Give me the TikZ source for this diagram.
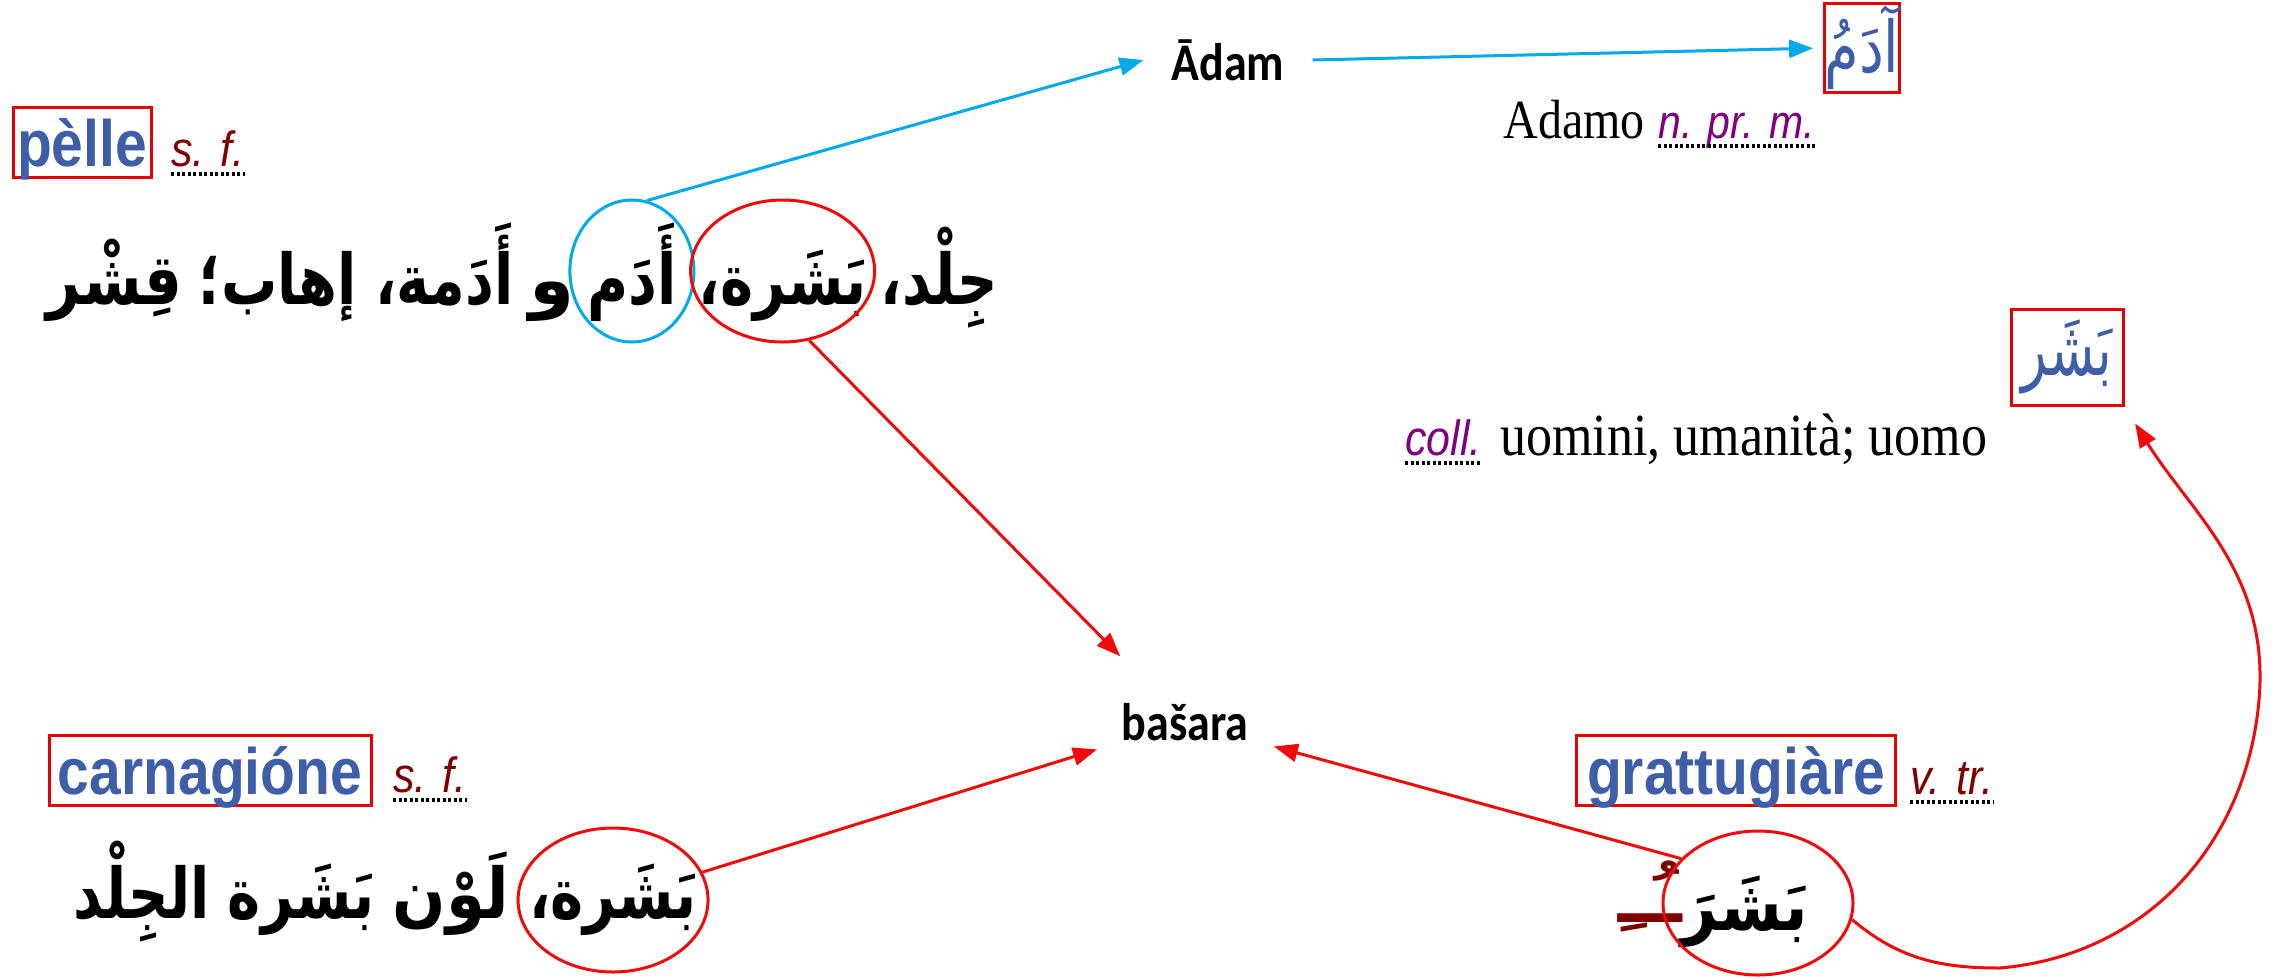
\documentclass[tikz,border=0pt]{standalone}
\usepackage{graphicx}
\usepackage{fontspec}
\usetikzlibrary{arrows.meta,shapes.geometric}
\setmainfont{Liberation Serif}
\newfontfamily\lsans{Liberation Sans}
\newfontfamily\carl{Carlito}
\newfontfamily\arabicfont[Script=Arabic]{DejaVu Sans}
\TeXXeTstate=1
\newcommand\fsz[1]{\fontsize{#1pt}{#1pt}\selectfont}
\newcommand\vs[1]{\scalebox{1}[1.15]{#1}}
\newcommand\arw[2][0.85]{\scalebox{#1}[1.06]{\beginR #2\endR}}
\definecolor{hwblue}{RGB}{62,94,168}
\definecolor{boxred}{RGB}{230,0,0}
\definecolor{arrred}{RGB}{240,10,10}
\definecolor{cyanline}{RGB}{0,170,235}
\definecolor{abbrred}{RGB}{128,0,0}
\definecolor{abbrpurple}{RGB}{128,0,128}
\tikzset{
 hw/.style={draw=boxred, line width=3pt, inner xsep=0pt, inner ysep=0pt, text height=59pt, text depth=11pt, text=hwblue, font=\lsans\bfseries\fsz{57}},
 abbr/.style={inner sep=0pt, anchor=base west, font=\lsans\itshape\fsz{43}},
 ar/.style={inner sep=0pt, anchor=base east, font=\arabicfont\bfseries\fsz{66}},
 arbox/.style={draw=boxred, line width=3pt, inner sep=0pt, text=hwblue, font=\arabicfont\fsz{62}},
 ring/.style={ellipse, draw, line width=3pt, inner sep=0pt},
 calib/.style={font=\carl\bfseries\fsz{46}},
 dots/.style={black, line width=3.2pt, dash pattern=on 3pt off 2.5pt},
 redarr/.style={draw=arrred, line width=3pt, -{Triangle[length=24pt,width=18pt]}},
 bluearr/.style={draw=cyanline, line width=3pt, -{Triangle[length=24pt,width=18pt]}},
}
\begin{document}
\begin{tikzpicture}[x=1pt,y=-1pt]
\useasboundingbox[fill=white] (0,0) rectangle (2275,978);

% ---- pelle entry
\node[hw, minimum width=138pt] (pelle) at (82,142) {\vs{pèlle}};
\node[abbr, text=abbrred] (sf1) at (171,166) {\vs{s. f.}};
\draw[dots] ([yshift=-8pt]sf1.base west) -- ([yshift=-8pt]sf1.base east);
\node[ar] (a1) at (998,304) {\arw{جِلْد،}};
\node[ar] (a2) at ([xshift=-14pt]a1.base west) {\arw{بَشَرة،}};
\node[ar] (a3) at ([xshift=-22pt]a2.base west) {\arw{أَدَم}};
\node[ar] (a4) at ([xshift=-12pt]a3.base west) {\arw[1.1]{و}};
\node[ar] (a5) at ([xshift=-16pt]a4.base west) {\arw{أَدَمة،}};
\node[ar] (a6) at ([xshift=-18pt]a5.base west) {\arw{إهاب؛}};
\node[ar] (a7) at ([xshift=-16pt]a6.base west) {\arw[0.9]{قِشْر}};
\coordinate (r1y) at (0,271);
\node[ring, draw=cyanline, minimum width=124pt, minimum height=142pt] (ring1) at (a3.base |- r1y) {};
\node[ring, draw=arrred, minimum width=184pt, minimum height=142pt] (ring2) at (a2.base |- r1y) {};

% ---- Adam
\node[calib, inner xsep=28pt, inner ysep=0pt] (adam) at (1228,60) {\vs{Ādam}};
\node[arbox, minimum width=70pt, minimum height=89pt] (adamar) at (1862,48) {\scalebox{0.9}[1.15]{\beginR آدَمُ\endR}};
\node[anchor=base east, inner sep=0pt, font=\fsz{48}] (adamo) at (1645,138) {\vs{Adamo}};
\node[abbr, text=abbrpurple, font=\lsans\itshape\fsz{41}] (npm) at (1658,138) {\vs{n. pr. m.}};
\draw[dots] ([yshift=-8pt]npm.base west) -- ([yshift=-8pt]npm.base east);

% ---- bashar
\node[arbox, minimum width=112pt, minimum height=96pt, font=\arabicfont\fsz{66}] (bsr) at (2067,357) {\scalebox{0.8}[1.15]{\beginR بَشَر\endR}};
\node[abbr, text=abbrpurple] (coll) at (1405,455) {\vs{coll.}};
\draw[dots] ([yshift=-8pt]coll.base west) -- ([yshift=-8pt]coll.base east);
\node[anchor=base west, inner sep=0pt, font=\fsz{52}] (uomini) at (1500,455) {\vs{uomini, umanità; uomo}};

% ---- basara
\node[calib, circle, minimum size=184pt, inner sep=0pt] (basara) at (1185,722) {\vs{bašara}};

% ---- carnagione entry
\node[hw, minimum width=322pt] (carna) at (210,770) {\vs{carnagióne}};
\node[abbr, text=abbrred] (sf2) at (393,792) {\vs{s. f.}};
\draw[dots] ([yshift=-8pt]sf2.base west) -- ([yshift=-8pt]sf2.base east);
\node[ar] (b1) at (697,918) {\arw{بَشَرة،}};
\node[ar] (b2) at ([xshift=-20pt]b1.base west) {\arw[0.95]{لَوْن}};
\node[ar] (b3) at ([xshift=-18pt]b2.base west) {\arw{بَشَرة}};
\node[ar] (b4) at ([xshift=-18pt]b3.base west) {\arw{الجِلْد}};
\coordinate (r3y) at (0,900);
\node[ring, draw=arrred, minimum width=190pt, minimum height=144pt] (ring3) at (b1.base |- r3y) {};

% ---- grattugiare entry
\node[hw, minimum width=319pt] (gratt) at (1736,770) {\vs{grattugiàre}};
\node[abbr, text=abbrred] (vtr) at (1910,794) {\vs{v. tr.}};
\draw[dots] ([yshift=-8pt]vtr.base west) -- ([yshift=-8pt]vtr.base east);
\node[ar, anchor=base] (c1) at (1745,930) {\arw[0.95]{بَشَرَ}};
\node[ar, anchor=base, text=abbrred] (c2) at (1650,922) {\arw[1.4]{ـُـِ}};
\node[ring, draw=arrred, minimum width=190pt, minimum height=144pt] (ring4) at (1758,903) {};

% ---- connectors
\draw[bluearr] (ring1.78) -- (adam.west);
\draw[bluearr, shorten >=10pt] (adam.east) -- (adamar.west);
\draw[redarr] (ring2.-69) -- (basara);
\draw[redarr] (ring3) -- (basara);
\draw[redarr] (ring4.150) -- (basara);
\coordinate (cb) at (2000,968);
\coordinate (cr) at (2259,700);
\draw[redarr, shorten >=20pt] (ring4.-10) to[out=-40,in=180] (cb) to[out=5,in=-95] (cr) to[out=85,in=-58] (bsr.south east);
\end{tikzpicture}
\end{document}
